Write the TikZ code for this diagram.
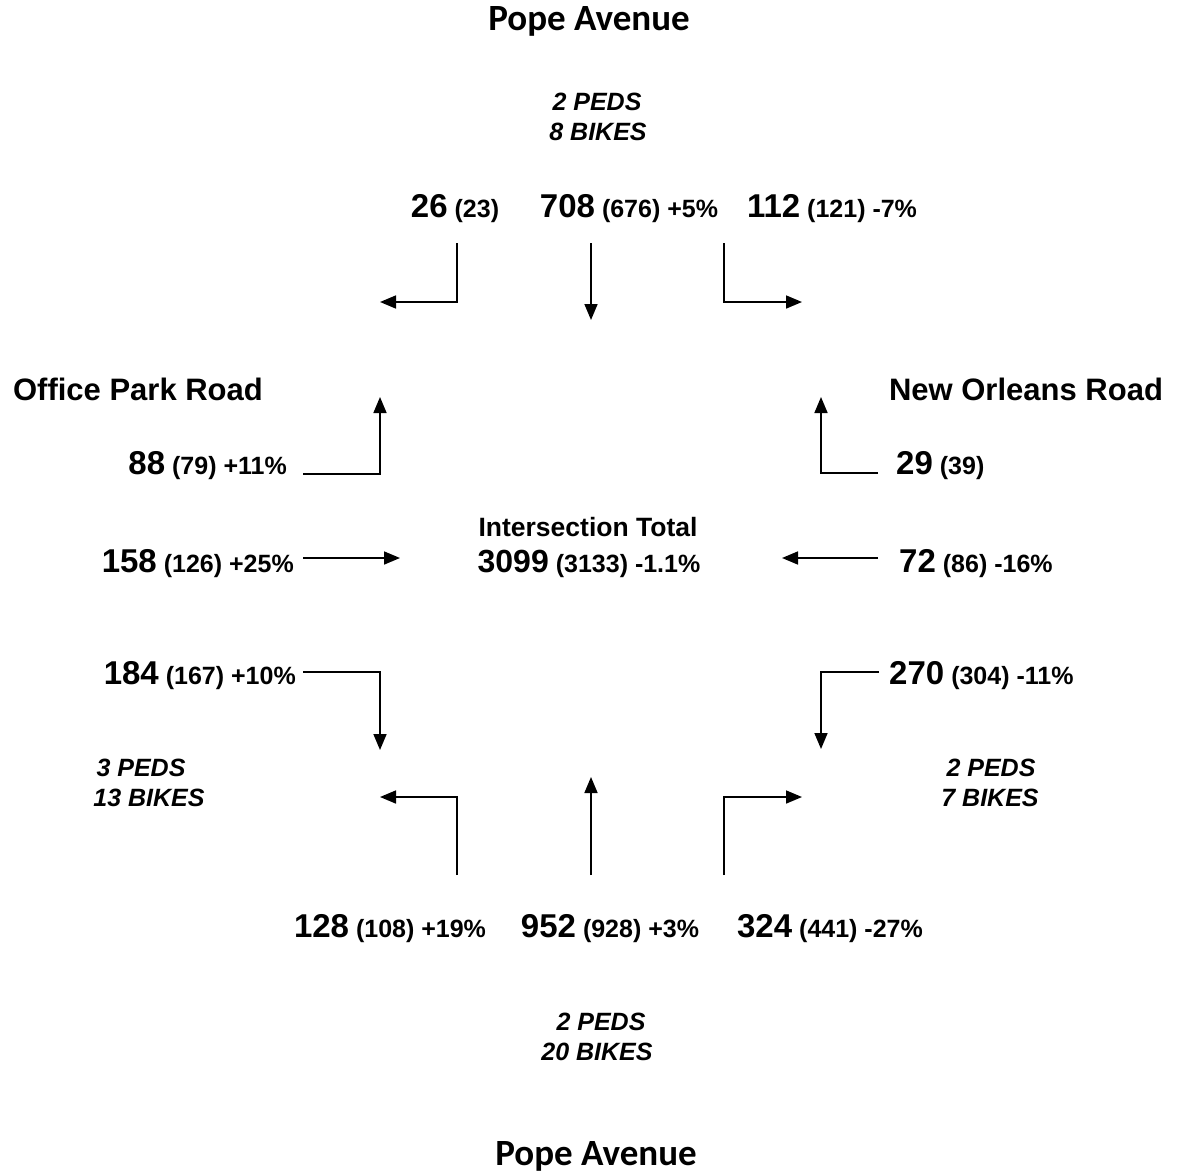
\documentclass[tikz,border=0pt]{standalone}
\usepackage{fontspec}
\setmainfont{Liberation Sans}
\newfontfamily\titlefont{Carlito}
\usetikzlibrary{arrows.meta}
\newcommand{\vol}[2]{{\fontsize{33}{36}\selectfont #1}\hspace{7pt}{\fontsize{25}{28}\selectfont #2}}
\tikzset{
  lab/.style={anchor=base,inner sep=0pt,font=\bfseries},
  road/.style={anchor=base,inner sep=0pt,font=\bfseries\fontsize{31}{34}\selectfont},
  title/.style={anchor=base,inner sep=0pt,font=\titlefont\bfseries\fontsize{37}{40}\selectfont},
  peds/.style={anchor=base,inner sep=0pt,align=center,font=\bfseries\itshape\fontsize{25}{30}\selectfont},
  arr/.style={line width=1.7pt,-{Triangle[length=16pt,width=13pt]}}
}
\begin{document}
\begin{tikzpicture}[x=1pt,y=-1pt]
\useasboundingbox (0,0) rectangle (1177,1172);
% titles
\node[title] (tTop) at (589,31) {Pope Avenue};
\node[title] (tBot) at (596,1165) {Pope Avenue};
\node[road] (rW) at (138,400) {Office Park Road};
\node[road] (rE) at (1026,400) {New Orleans Road};
% peds and bikes
\node[peds] (pN1) at (597,110) {2 PEDS};
\node[peds] (pN2) at (598,140) {8 BIKES};
\node[peds] (pW1) at (141,776) {3 PEDS};
\node[peds] (pW2) at (149,806) {13 BIKES};
\node[peds] (pE1) at (991,776) {2 PEDS};
\node[peds] (pE2) at (990,806) {7 BIKES};
\node[peds] (pS1) at (601,1030) {2 PEDS};
\node[peds] (pS2) at (597,1060) {20 BIKES};
% north approach
\node[lab] (nL) at (455,217) {\vol{26}{(23)}};
\node[lab] (nT) at (629,217) {\vol{708}{(676) +5\%}};
\node[lab] (nR) at (832,217) {\vol{112}{(121) -7\%}};
% west approach
\node[lab,anchor=base east] (wL) at (287,474) {\vol{88}{(79) +11\%}};
\node[lab,anchor=base east] (wT) at (294,572) {\vol{158}{(126) +25\%}};
\node[lab,anchor=base east] (wR) at (296,684) {\vol{184}{(167) +10\%}};
% east approach
\node[lab,anchor=base west] (eR) at (896,474) {\vol{29}{(39)}};
\node[lab,anchor=base west] (eT) at (899,572) {\vol{72}{(86) -16\%}};
\node[lab,anchor=base west] (eL) at (889,684) {\vol{270}{(304) -11\%}};
% south approach
\node[lab] (sL) at (390,937) {\vol{128}{(108) +19\%}};
\node[lab] (sT) at (610,937) {\vol{952}{(928) +3\%}};
\node[lab] (sR) at (830,937) {\vol{324}{(441) -27\%}};
% center
\node[lab,font=\bfseries\fontsize{26.5}{28}\selectfont] (cT) at (588,536) {Intersection Total};
\node[lab] (cV) at (589,572) {{\fontsize{32}{34}\selectfont 3099}\hspace{7pt}{\fontsize{25}{28}\selectfont (3133) -1.1\%}};
% arrow coordinates
\coordinate (n1a) at (457,243); \coordinate (n1b) at (380,302);
\coordinate (n2a) at (591,243); \coordinate (n2b) at (591,320);
\coordinate (n3a) at (724,243); \coordinate (n3b) at (802,302);
\coordinate (w1a) at (303,474); \coordinate (w1b) at (380,397);
\coordinate (w2a) at (303,558); \coordinate (w2b) at (400,558);
\coordinate (w3a) at (303,672); \coordinate (w3b) at (380,750);
\coordinate (e1a) at (878,473); \coordinate (e1b) at (821,397);
\coordinate (e2a) at (878,558); \coordinate (e2b) at (782,558);
\coordinate (e3a) at (879,672); \coordinate (e3b) at (821,749);
\coordinate (s1a) at (457,875); \coordinate (s1b) at (380,797);
\coordinate (s2a) at (591,875); \coordinate (s2b) at (591,777);
\coordinate (s3a) at (724,875); \coordinate (s3b) at (802,797);
% arrows
\draw[arr] (n1a) |- (n1b);
\draw[arr] (n2a) -- (n2b);
\draw[arr] (n3a) |- (n3b);
\draw[arr] (w1a) -| (w1b);
\draw[arr] (w2a) -- (w2b);
\draw[arr] (w3a) -| (w3b);
\draw[arr] (e1a) -| (e1b);
\draw[arr] (e2a) -- (e2b);
\draw[arr] (e3a) -| (e3b);
\draw[arr] (s1a) |- (s1b);
\draw[arr] (s2a) -- (s2b);
\draw[arr] (s3a) |- (s3b);
\end{tikzpicture}
\end{document}
